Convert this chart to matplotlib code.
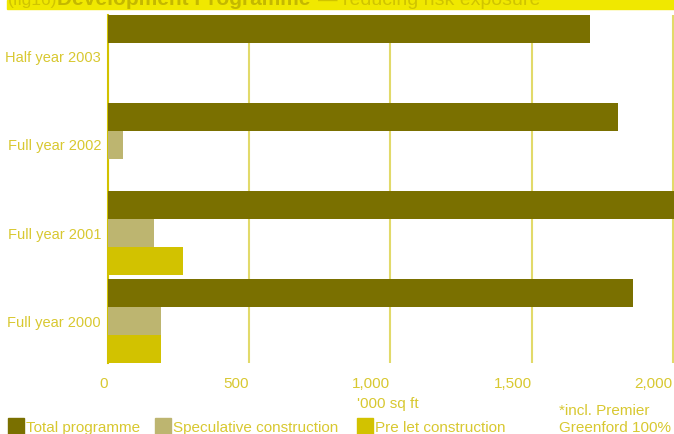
import numpy as np
import matplotlib.pyplot as plt
from matplotlib.patches import Rectangle

# data, '000 sq ft
categories = ['Full year 2000', 'Full year 2001', 'Full year 2002', 'Half year 2003']
total = [1858, 2050, 1805, 1706]
speculative = [188, 163, 53, 0]
pre_let = [188, 265, 0, 0]
series_names = ['Total programme', 'Speculative construction', 'Pre let construction']
ticks = [0, 500, 1000, 1500, 2000]
tick_labels = ['0', '500', '1,000', '1,500', '2,000']

c_total = '#7a7000'
c_spec = '#bdb570'
c_pre = '#d2c200'
c_text = '#d8c830'
c_grid = '#e2da6a'

plt.rcParams['font.family'] = ['Liberation Sans', 'DejaVu Sans']

fig = plt.figure(figsize=(6.74, 4.34), dpi=100)
ax = fig.add_axes([108 / 674, 1 - 363 / 434, 1 - 108 / 674, 348 / 434])

y = np.arange(len(categories))
h = 0.316
ax.barh(y + h, total, height=h, color=c_total, zorder=3)
ax.barh(y, speculative, height=h, color=c_spec, zorder=3)
ax.barh(y - h, pre_let, height=h, color=c_pre, zorder=3)

ax.set_xlim(0, 2004)
ax.set_ylim(-1.5 * h, len(categories) - 1 + 1.5 * h)
ax.set_xticks(ticks)
ax.set_xticklabels(tick_labels, ha='right')
ax.set_yticks(y)
ax.set_yticklabels(categories)
ax.tick_params(axis='x', length=0, pad=10, labelsize=11, labelcolor=c_text)
ax.tick_params(axis='y', length=0, pad=5, labelsize=10.5, labelcolor=c_text)
ax.grid(axis='x', color=c_grid, linewidth=1.5, zorder=1)
for s in ['top', 'right', 'bottom']:
    ax.spines[s].set_visible(False)
ax.spines['left'].set_color(c_pre)
ax.spines['left'].set_linewidth(1.5)

# header band (cut off at the top of the image)
fig.patches.append(Rectangle((7 / 674, 1 - 8.5 / 434), 1, 8.5 / 434, transform=fig.transFigure,
                             color='#f0e800', zorder=0))
fig.text(8 / 674, 1 - 5 / 434, '(fig16)', color='#d0c400', fontsize=12.5, va='baseline')
fig.text(57 / 674, 1 - 5 / 434, 'Development Programme', color='#c4b800', fontsize=15,
         fontweight='bold', va='baseline')
fig.text(318 / 674, 1 - 5 / 434, '— reducing risk exposure', color='#d0c400', fontsize=14,
         va='baseline')

fig.text(357 / 674, 1 - 404 / 434, "'000 sq ft", color=c_text, fontsize=11, va='center')
fig.text(559 / 674, 1 - 411 / 434, '*incl. Premier', color=c_text, fontsize=11, va='center')
fig.text(559 / 674, 1 - 428 / 434, 'Greenford 100%', color=c_text, fontsize=11, va='center')

# legend
leg_x = [8, 155, 357]
for x0, name, col in zip(leg_x, series_names, [c_total, c_spec, c_pre]):
    fig.patches.append(Rectangle((x0 / 674, 0), 16 / 674, 16 / 434, transform=fig.transFigure,
                                 color=col))
    fig.text((x0 + 18) / 674, 1 - 428 / 434, name, color=c_text, fontsize=11, va='center')

fig.savefig('out.png', dpi=100)
